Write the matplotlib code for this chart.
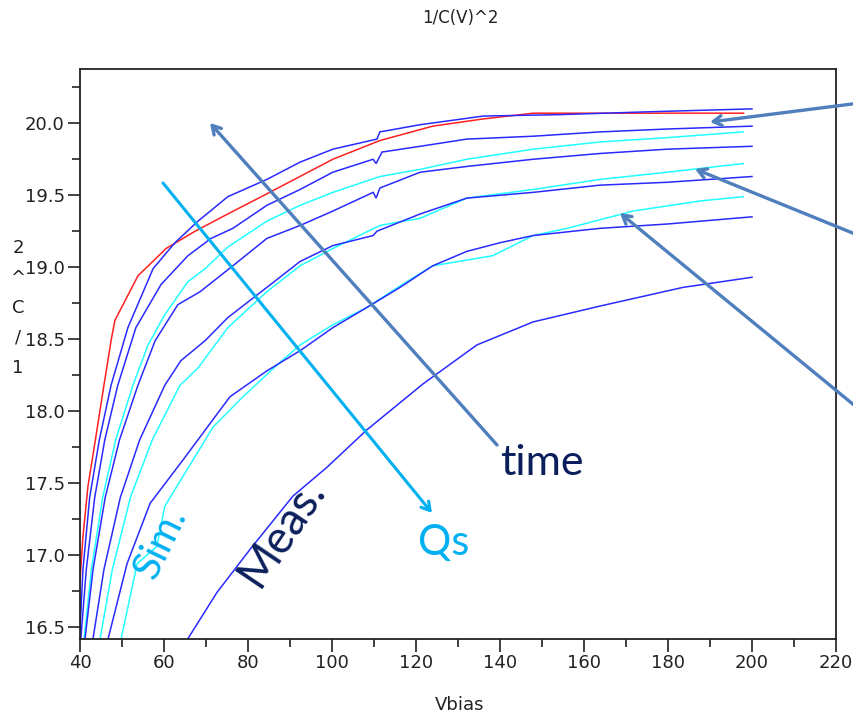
import matplotlib
matplotlib.use("Agg")
import matplotlib.pyplot as plt
from matplotlib.ticker import MultipleLocator

# ---------------- data ----------------
red_x = [40, 40.7, 41.9, 43.5, 45.7, 47.4, 48.3, 53.8, 60.5, 67.4, 75.2, 84.5, 100.2, 111.4, 124, 136, 147.9, 198]
red_y = [16.82, 17.13, 17.48, 17.77, 18.18, 18.49, 18.63, 18.94, 19.13, 19.25, 19.37, 19.51, 19.75, 19.88, 19.98, 20.03, 20.07, 20.07]

b1_x = [40, 40.7, 42.3, 44.6, 47.4, 51.4, 57.4, 62.6, 68.1, 75.2, 84.5, 92.4, 100.2, 110.7, 111.4, 121, 136, 154.3, 175.7, 200]
b1_y = [16.48, 16.9, 17.4, 17.8, 18.18, 18.58, 18.99, 19.17, 19.32, 19.49, 19.61, 19.73, 19.82, 19.89, 19.94, 19.99, 20.05, 20.06, 20.08, 20.10]

b3_x = [40.2, 41.5, 43.5, 45.9, 49.0, 53.3, 59.3, 65.7, 71.2, 76.4, 84.5, 92.4, 100.2, 109.8, 110.5, 111.9, 121, 132.1, 147.9, 163.8, 179.8, 200]
b3_y = [16.42, 16.9, 17.4, 17.8, 18.18, 18.58, 18.88, 19.08, 19.20, 19.27, 19.43, 19.54, 19.66, 19.75, 19.72, 19.80, 19.84, 19.89, 19.91, 19.94, 19.96, 19.98]

c4_x = [41.0, 42.7, 45.4, 48.5, 52.6, 56.2, 60.2, 65.7, 69.8, 75.2, 84.5, 92.4, 100.2, 111.4, 121, 132.1, 147.9, 163.8, 179.8, 197.9]
c4_y = [16.42, 16.9, 17.4, 17.8, 18.18, 18.46, 18.67, 18.90, 18.99, 19.14, 19.32, 19.43, 19.52, 19.63, 19.68, 19.75, 19.82, 19.87, 19.90, 19.94]

b5_x = [41.2, 43.1, 46.0, 49.4, 53.8, 57.9, 63.3, 68.6, 76.4, 84.5, 92.4, 100.2, 109.8, 110.5, 111.4, 121, 132.1, 147.9, 163.8, 179.8, 200]
b5_y = [16.42, 16.9, 17.4, 17.8, 18.18, 18.49, 18.74, 18.83, 19.01, 19.20, 19.29, 19.39, 19.52, 19.48, 19.55, 19.66, 19.70, 19.75, 19.79, 19.82, 19.84]

b7_x = [43.1, 45.7, 49.6, 54.2, 60.2, 64.0, 69.8, 75.2, 84.5, 92.4, 100.2, 109.8, 110.7, 121, 132.1, 147.9, 163.8, 179.8, 200]
b7_y = [16.42, 16.9, 17.4, 17.8, 18.18, 18.35, 18.49, 18.65, 18.86, 19.04, 19.15, 19.22, 19.25, 19.37, 19.48, 19.52, 19.57, 19.59, 19.63]

c6_x = [44.8, 47.7, 52.0, 57.2, 63.8, 68.1, 75.2, 84.5, 92.4, 100.2, 111.4, 121, 132.1, 147.9, 163.8, 179.8, 197.9]
c6_y = [16.42, 16.9, 17.4, 17.8, 18.18, 18.30, 18.58, 18.83, 19.01, 19.13, 19.29, 19.34, 19.48, 19.54, 19.61, 19.66, 19.72]

b9_x = [46.7, 51.2, 56.7, 64.5, 75.7, 84.5, 92.4, 100.2, 108.3, 116.2, 124.0, 132.1, 140, 147.9, 163.8, 179.8, 200]
b9_y = [16.42, 16.94, 17.36, 17.66, 18.10, 18.28, 18.42, 18.58, 18.72, 18.86, 19.01, 19.11, 19.17, 19.22, 19.27, 19.30, 19.35]

c8_x = [49.8, 53.6, 58.3, 60.2, 71.7, 78.8, 86.9, 92.4, 100.2, 108.3, 116.2, 124.0, 138.3, 147.9, 156, 171.7, 187.6, 197.9]
c8_y = [16.42, 16.94, 17.06, 17.34, 17.89, 18.10, 18.32, 18.46, 18.60, 18.72, 18.87, 19.01, 19.08, 19.22, 19.27, 19.39, 19.46, 19.49]

b10_x = [65.7, 72.6, 80.5, 90.7, 98.8, 108.3, 121.7, 134.5, 147.9, 163.8, 183.6, 200]
b10_y = [16.42, 16.74, 17.04, 17.41, 17.61, 17.87, 18.19, 18.46, 18.62, 18.73, 18.86, 18.93]

x_ticks = [40, 60, 80, 100, 120, 140, 160, 180, 200, 220]
y_ticks = [16.5, 17.0, 17.5, 18.0, 18.5, 19.0, 19.5, 20.0]

title_text = "1/C(V)^2"
xlabel_text = "Vbias"
ylabel_chars = ["2", "^", "C", "/", "1"]

# ---------------- figure ----------------
W, H = 854, 721
fig = plt.figure(figsize=(W / 100, H / 100), dpi=100)
ax = fig.add_axes([80 / W, 1 - 639 / H, (836 - 80) / W, (639 - 69) / H])

BLUE = "#2a2aff"
CYAN = "#22ffff"
RED = "#ff2020"
lw = 1.1
series = [
    (b10_x, b10_y, BLUE), (c8_x, c8_y, CYAN), (b9_x, b9_y, BLUE),
    (c6_x, c6_y, CYAN), (b7_x, b7_y, BLUE), (c4_x, c4_y, CYAN),
    (b5_x, b5_y, BLUE), (b3_x, b3_y, BLUE), (red_x, red_y, RED),
    (b1_x, b1_y, BLUE),
]
for xs, ys, c in series:
    ax.plot(xs, ys, color=c, lw=lw, solid_joinstyle="miter")

ax.set_xlim(40, 220)
ax.set_ylim(16.417, 20.377)
ax.set_xticks(x_ticks)
ax.set_yticks(y_ticks)
ax.xaxis.set_minor_locator(MultipleLocator(10))
ax.yaxis.set_minor_locator(MultipleLocator(0.25))
ax.set_xticklabels([str(v) for v in x_ticks])
ax.set_yticklabels([f"{v:.1f}" for v in y_ticks])
for s in ax.spines.values():
    s.set_linewidth(1.3)
    s.set_color("#222222")
ax.tick_params(which="major", direction="out", length=9, width=1.3, color="#333333",
               labelsize=13, pad=2, labelcolor="#222222")
ax.tick_params(which="minor", direction="out", length=6, width=1.3, color="#333333")

fig.text(460 / W, 1 - 18 / H, title_text, ha="center", va="center", fontsize=12, color="#222222")
fig.text(460 / W, 1 - 705 / H, xlabel_text, ha="center", va="center", fontsize=13, color="#222222")
for i, ch in enumerate(ylabel_chars):
    fig.text(18 / W, 1 - (248 + 30 * i) / H, ch, ha="center", va="center", fontsize=13, color="#222222")

# ---------------- annotations ----------------
STEEL = "#4f7fbd"
LBLUE = "#00b0f0"
NAVY = "#0b1f5c"
FONT = ["Lato", "DejaVu Sans"]

def arrow(tail, head, color, lw_):
    fig.add_artist(matplotlib.patches.FancyArrowPatch(
        (tail[0], H - tail[1]), (head[0], H - head[1]), transform=None,
        arrowstyle="->,head_length=6,head_width=3.5", color=color, lw=lw_,
        shrinkA=0, shrinkB=0, clip_on=False))

arrow((497, 445), (210, 123), STEEL, 2.4)
arrow((163, 183), (432, 513), LBLUE, 2.2)
arrow((860, 103), (710, 122), STEEL, 2.4)
arrow((860, 236), (695, 169), STEEL, 2.4)
arrow((860, 410), (620, 213), STEEL, 2.4)

fig.text(542 / W, 1 - 463 / H, "time", ha="center", va="center", fontsize=31, color=NAVY, family=FONT)
fig.text(444 / W, 1 - 543 / H, "Qs", ha="center", va="center", fontsize=30, color=LBLUE, family=FONT)
fig.text(161 / W, 1 - 543 / H, "Sim.", ha="center", va="center", fontsize=29, color=LBLUE,
         rotation=64, family=FONT, rotation_mode="anchor")
fig.text(282 / W, 1 - 532 / H, "Meas.", ha="center", va="center", fontsize=33, color=NAVY,
         rotation=56, family=FONT, rotation_mode="anchor")

fig.savefig("out.png", dpi=100)
